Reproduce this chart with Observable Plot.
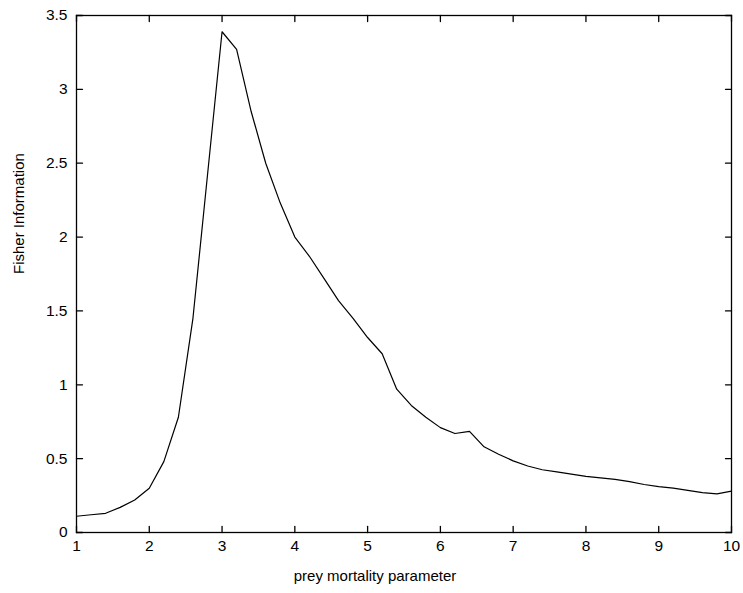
<!DOCTYPE html>
<html>
<head>
<meta charset="utf-8">
<script src="https://cdn.jsdelivr.net/npm/d3@7"></script>
<script src="https://cdn.jsdelivr.net/npm/@observablehq/plot@0.6"></script>
<style>
  html, body { margin: 0; padding: 0; background: #fff; }
</style>
</head>
<body>
<div id="chart"></div>
<script>
const mortality = [1.0,1.2,1.4,1.6,1.8,2.0,2.2,2.4,2.6,2.8,3.0,3.2,3.4,3.6,3.8,4.0,4.2,4.4,4.6,4.8,5.0,5.2,5.4,5.6,5.8,6.0,6.2,6.4,6.6,6.8,7.0,7.2,7.4,7.6,7.8,8.0,8.2,8.4,8.6,8.8,9.0,9.2,9.4,9.6,9.8,10.0];
const fisher = [0.11,0.12,0.13,0.17,0.22,0.30,0.48,0.78,1.45,2.42,3.39,3.27,2.85,2.50,2.23,2.00,1.87,1.72,1.57,1.45,1.32,1.21,0.97,0.86,0.78,0.71,0.67,0.685,0.58,0.53,0.485,0.45,0.425,0.41,0.395,0.38,0.37,0.36,0.345,0.325,0.31,0.30,0.285,0.27,0.262,0.28];
const xTicks = [1,2,3,4,5,6,7,8,9,10];
const yTicks = [0,0.5,1,1.5,2,2.5,3,3.5];
const xLabel = "prey mortality parameter";
const yLabel = "Fisher Information";

const data = mortality.map((m, i) => ({m, f: fisher[i]}));
const tickShape = {draw(ctx, l) { ctx.moveTo(0, 0); ctx.lineTo(0, -l); }};

const chart = Plot.plot({
  width: 743,
  height: 593,
  marginLeft: 76,
  marginRight: 12,
  marginTop: 15,
  marginBottom: 61,
  style: {fontFamily: "'Liberation Sans', Arial, sans-serif", fontSize: "15px", background: "#fff", color: "#000"},
  x: {domain: [1, 10]},
  y: {domain: [0, 3.5]},
  marks: [
    Plot.line(data, {x: "m", y: "f", stroke: "#000", strokeWidth: 1.2}),
    Plot.frame({stroke: "#000", strokeWidth: 1.3}),
    Plot.vectorX(xTicks, {frameAnchor: "bottom", length: 6, rotate: 0, anchor: "start", shape: tickShape, stroke: "#000", strokeWidth: 1.3}),
    Plot.vectorX(xTicks, {frameAnchor: "top", length: 6, rotate: 180, anchor: "start", shape: tickShape, stroke: "#000", strokeWidth: 1.3}),
    Plot.vectorY(yTicks, {frameAnchor: "left", length: 6, rotate: 90, anchor: "start", shape: tickShape, stroke: "#000", strokeWidth: 1.3}),
    Plot.vectorY(yTicks, {frameAnchor: "right", length: 6, rotate: -90, anchor: "start", shape: tickShape, stroke: "#000", strokeWidth: 1.3}),
    Plot.axisX({ticks: xTicks, tickSize: 0, tickPadding: 7, tickFormat: d => String(d), label: null, fontSize: 15.5, fill: "#000"}),
    Plot.axisY({ticks: yTicks, tickSize: 0, tickPadding: 9, tickFormat: d => String(d), label: null, fontSize: 15.5, fill: "#000"}),
    Plot.text([xLabel], {frameAnchor: "bottom", text: d => d, dy: 48, dx: -29, fontSize: 15, fill: "#000"}),
    Plot.text([yLabel], {frameAnchor: "left", text: d => d, rotate: -90, dx: -57, fontSize: 15, fill: "#000"})
  ]
});
document.getElementById("chart").appendChild(chart);
</script>
</body>
</html>
